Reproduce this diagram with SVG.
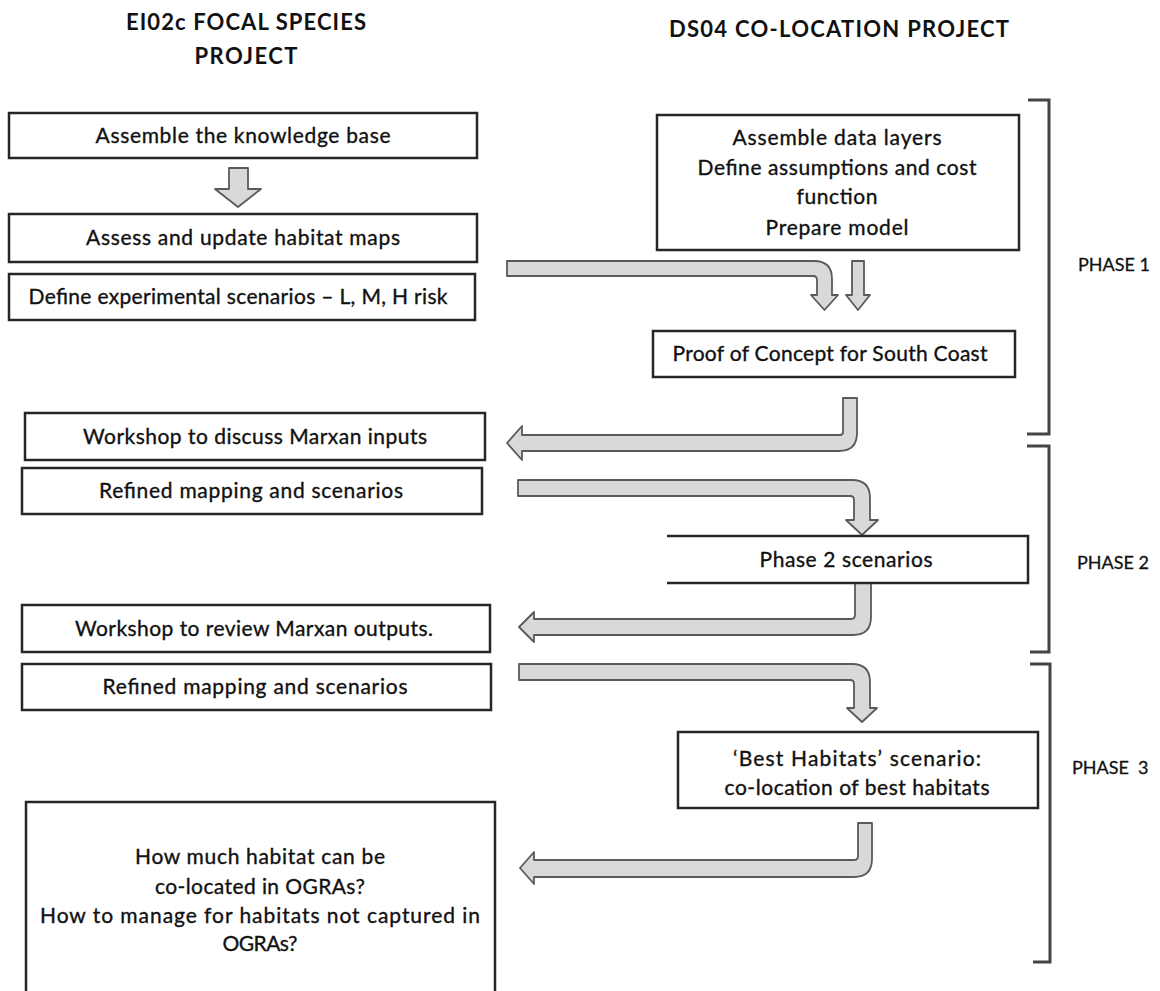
<svg xmlns="http://www.w3.org/2000/svg" width="1160" height="991" viewBox="0 0 1160 991">
<style>
  .box { fill: #ffffff; stroke: #262626; stroke-width: 2.5; }
  .t { font-family: Lato, "Liberation Sans", sans-serif; font-size: 21px; fill: #111; stroke: #111; stroke-width: 0.35; text-anchor: middle; }
  .h { font-family: Lato, "Liberation Sans", sans-serif; font-size: 22px; font-weight: bold; fill: #111; text-anchor: middle; }
  .ph { font-family: Lato, "Liberation Sans", sans-serif; font-size: 18px; fill: #111; stroke: #111; stroke-width: 0.3; }
  .arrow { fill: #d9d9d9; stroke: #5a5a5a; stroke-width: 1.8; stroke-linejoin: round; }
  .br { fill: none; stroke: #444; stroke-width: 3; }
</style>
<rect x="0" y="0" width="1160" height="991" fill="#ffffff"/>

<g id="headers">
  <text class="h" x="246" y="30" textLength="240">EI02c FOCAL SPECIES</text>
  <text class="h" x="246" y="64" textLength="103">PROJECT</text>
  <text class="h" x="839" y="37" textLength="340">DS04 CO-LOCATION PROJECT</text>
</g>

<g id="phases">
  <path class="br" d="M1028,100 H1049 V434 H1027"/>
  <path class="br" d="M1027,446 H1049 V652 H1030"/>
  <path class="br" d="M1030,664 H1050 V962 H1033"/>
  <text class="ph" x="1078" y="271">PHASE 1</text>
  <text class="ph" x="1077" y="569">PHASE 2</text>
  <text class="ph" x="1072" y="774" xml:space="preserve">PHASE  3</text>
</g>

<g id="connectors">
  <path class="arrow" d="M229,168 H248 V189 H261 L238,207 L215,189 H229 Z"/>
  <path class="arrow" d="M507,261 H814 Q832,261 832,279 V295 H838 L824.5,310 L811,295 H817 V280 Q817,276 813,276 H507 Z"/>
  <path class="arrow" d="M852,261 H864 V295 H870 L858,310 L846,295 H852 Z"/>
  <path class="arrow" d="M843,398 H857 V433 Q857,451 839,451 H522 V460 L507,443 L522,426 V435 H840 Q843,435 843,432 Z"/>
  <path class="arrow" d="M518,480 H852 Q870,480 870,498 V520 H878 L862,535 L846,520 H854 V500 Q854,496 850,496 H518 Z"/>
  <path class="arrow" d="M855,583 H871 V617 Q871,635 853,635 H534 V642 L519,627 L534,612 V619 H851 Q855,619 855,615 Z"/>
  <path class="arrow" d="M519,664 H852 Q870,664 870,682 V708 H877 L862,722 L847,708 H854 V684 Q854,680 850,680 H519 Z"/>
  <path class="arrow" d="M858,823 H872 V859 Q872,877 854,877 H534 V884 L520,868 L534,852 V860 H854 Q858,860 858,856 Z"/>
</g>

<g id="knowledge-base">
  <rect class="box" x="9" y="113" width="468" height="45"/>
  <text class="t" x="243" y="143" textLength="295">Assemble the knowledge base</text>
</g>
<g id="habitat-maps">
  <rect class="box" x="9" y="214" width="468" height="48"/>
  <text class="t" x="243" y="245" textLength="314">Assess and update habitat maps</text>
</g>
<g id="experimental-scenarios">
  <rect class="box" x="9" y="274" width="466" height="46"/>
  <text class="t" x="238" y="304" textLength="419">Define experimental scenarios – L, M, H risk</text>
</g>
<g id="data-layers">
  <rect class="box" x="657" y="115" width="362" height="135"/>
  <text class="t" x="837" y="145" textLength="209">Assemble data layers</text>
  <text class="t" x="837" y="175" textLength="279">Define assumptions and cost</text>
  <text class="t" x="837" y="204" textLength="81">function</text>
  <text class="t" x="837" y="235" textLength="143">Prepare model</text>
</g>
<g id="proof-of-concept">
  <rect class="box" x="653" y="331" width="362" height="46"/>
  <text class="t" x="830" y="361" textLength="315">Proof of Concept for South Coast</text>
</g>
<g id="workshop-inputs">
  <rect class="box" x="25" y="413" width="460" height="47"/>
  <text class="t" x="255" y="444" textLength="344">Workshop to discuss Marxan inputs</text>
</g>
<g id="refined-mapping-1">
  <rect class="box" x="22" y="468" width="460" height="46"/>
  <text class="t" x="251" y="498" textLength="304">Refined mapping and scenarios</text>
</g>
<g id="phase2-scenarios">
  <path class="box" d="M667,536 H1028 V583 H667"/>
  <text class="t" x="846" y="567" textLength="173">Phase 2 scenarios</text>
</g>
<g id="workshop-outputs">
  <rect class="box" x="22" y="605" width="468" height="47"/>
  <text class="t" x="254" y="636" textLength="358">Workshop to review Marxan outputs.</text>
</g>
<g id="refined-mapping-2">
  <rect class="box" x="22" y="664" width="469" height="46"/>
  <text class="t" x="255" y="694" textLength="305">Refined mapping and scenarios</text>
</g>
<g id="best-habitats">
  <rect class="box" x="678" y="732" width="360" height="76"/>
  <text class="t" x="857" y="766" textLength="248">‘Best Habitats’ scenario:</text>
  <text class="t" x="857" y="795" textLength="265">co-location of best habitats</text>
</g>
<g id="questions">
  <rect class="box" x="26" y="802" width="469" height="195"/>
  <text class="t" x="260" y="864" textLength="250">How much habitat can be</text>
  <text class="t" x="260" y="894" textLength="210">co-located in OGRAs?</text>
  <text class="t" x="260" y="923" textLength="440">How to manage for habitats not captured in</text>
  <text class="t" x="260" y="951" textLength="75">OGRAs?</text>
</g>
</svg>
